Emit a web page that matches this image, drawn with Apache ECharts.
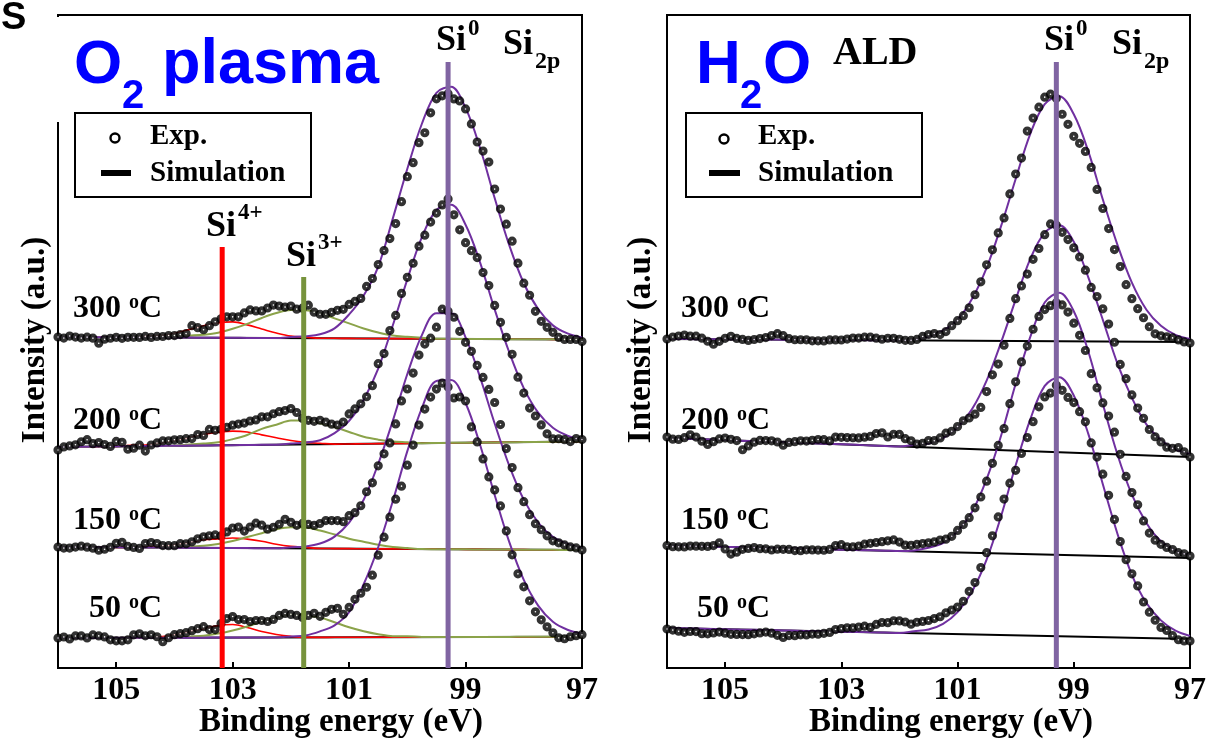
<!DOCTYPE html>
<html><head><meta charset="utf-8">
<script src="https://cdn.jsdelivr.net/npm/echarts/dist/echarts.min.js"></script>
<style>html,body{margin:0;padding:0;background:#fff}#chart{width:1210px;height:740px}</style>
</head><body><div id="chart"></div>
<script>
// ---------- DATA ----------
const E_START = 106, E_END = 97;      // binding energy range (eV)
const DOT_STEP = 0.1;                 // experimental sampling step (eV)
const FIT_STEP = 0.25;                // fitted curve sampling step (eV)
const xTicks = [105, 103, 101, 99, 97];
const temps = ['300', '200', '150', '50'];
const peakSi4 = 103.18, peakSi3 = 101.78, peakSi0 = 99.3;

// baselines: [value at 106 eV, value at 97 eV]
const o2Base300 = [331, 328.5], o2Base200 = [221, 226.5], o2Base150 = [121, 118], o2Base50 = [30, 31.3];
const h2oBase300 = [329, 326], h2oBase200 = [230, 211], h2oBase150 = [122.5, 110], h2oBase50 = [40, 29];

// O2 plasma experimental points (height above baseline), 106 -> 97 eV step 0.1
const o2Exp300 = [0,-1,1,0,-1,0,-1,-6,-2,-1, 0,-1,0,0,0,1,0,1,1,2, 2,3,4,12,10,8,12,16,19,21,
  21,21,25,28,27,27,30,33,32,31, 32,29,30,33,26,24,24,26,28,29, 34,37,40,52,60,74,88,100,115,137,
  162,176,196,206,226,240,243,245,240,238, 230,215,197,188,177,150,130,115,98,76, 56,44,28,18,12,7,2,0,0,0, -2];
const o2Exp200 = [-3,0,1,2,5,7,3,4,2,0, 5,4,-3,-2,1,-5,1,3,5,5, 6,6,7,7,11,10,16,15,16,18,
  20,21,22,24,25,28,28,31,33,34, 36,32,26,24,23,24,22,20,19,22, 30,35,40,47,58,80,90,113,128,150,
  166,180,197,208,221,230,238,244,228,213, 200,192,185,170,157,137,120,105,88,65, 49,34,26,17,8,3,3,2,0,3, 2];
const o2Exp150 = [0,-1,-1,0,1,0,-1,-3,-2,0, 4,5,1,0,-1,4,5,4,2,2, 2,4,4,6,9,11,12,13,12,16,
  20,21,17,21,25,23,19,21,24,29, 26,23,25,24,23,25,28,28,28,27, 33,36,43,57,66,83,95,106,125,148,
  160,176,194,205,211,222,240,238,232,218, 207,198,184,172,160,147,125,101,82,62, 48,35,26,20,14,9,7,5,3,2, 0];
const o2Exp50 = [0,1,-1,2,2,0,3,2,1,-2, -3,-3,-2,3,4,2,3,1,-4,0, 3,4,5,7,9,11,8,8,14,19,
  21,18,18,16,17,17,16,18,22,24, 23,22,20,22,24,21,25,28,29,23, 30,38,44,50,62,82,100,120,138,151,
  172,192,212,228,240,248,254,250,239,240, 236,210,195,178,160,147,131,106,82,63, 50,36,25,17,10,4,-1,-2,0,1, 2];

// O2 plasma fitted components (height above baseline), 106 -> 97 eV step 0.25
const o2Si0Fit300 = [0,0,0,0,0,0,0,0,0,0,0,0,0,0,0,0, 1,2,4,10,24,43,72,120,170,215,246,252,231,191,141,94,56,30,14,6,2];
const o2Si0Fit200 = [0,0,0,0,0,0,0,0,0,0,0,0,0,0,0,0, 1,2,4,11,23,44,75,118,164,206,233,238,218,180,133,90,54,29,14,6,2];
const o2Si0Fit150 = [0,0,0,0,0,0,0,0,0,0,0,0,0,0,0,0, 1,2,5,12,26,49,85,128,175,214,236,236,212,172,126,84,50,27,13,6,2];
const o2Si0Fit50  = [0,0,0,0,0,0,0,0,0,0,0,0,0,0,0,0, 1,2,6,12,25,53,90,136,186,229,256,257,234,192,142,95,57,31,15,7,3];
const o2Si3Fit300 = [0,0,0,0,0,0,0,0, 1,2,3,5,9,14,20,25,28,28,25,20,15,10,6,3,2,1, 0,0,0,0,0,0,0,0,0,0,0];
const o2Si3Fit200 = [0,0,0,0,0,0,0,0,0, 1,2,3,6,10,16,20,24,24,21,17,12,7,4,2,1, 0,0,0,0,0,0,0,0,0,0,0,0];
const o2Si3Fit150 = [0,0,0,0,0,0,0,0,0, 1,2,4,7,11,15,19,21,21,18,14,10,7,4,2,1, 0,0,0,0,0,0,0,0,0,0,0,0];
const o2Si3Fit50  = [0,0,0,0,0,0,0,0,0, 1,2,4,7,11,16,20,23,22,20,15,10,6,3,1,1, 0,0,0,0,0,0,0,0,0,0,0,0];
const o2Si4Fit300 = [0,0,0,0,0,0, 1,2,4,8,12,15,16,13,9,5,2,1, 0,0,0,0,0,0,0,0,0,0,0,0,0,0,0,0,0,0,0];
const o2Si4Fit200 = [0,0,0,0,0, 1,1,3,5,8,11,13,14,13,10,7,4,2,1, 0,0,0,0,0,0,0,0,0,0,0,0,0,0,0,0,0,0];
const o2Si4Fit150 = [0,0,0,0,0,0, 1,1,3,5,8,9,10,9,7,4,2,1, 0,0,0,0,0,0,0,0,0,0,0,0,0,0,0,0,0,0,0];
const o2Si4Fit50  = [0,0,0,0,0,0,0, 1,3,6,9,12,13,10,6,3,1, 0,0,0,0,0,0,0,0,0,0,0,0,0,0,0,0,0,0,0,0];

// H2O ALD experimental points
const h2oExp300 = [0,2,3,4,3,3,1,-2,-5,-2, 1,3,1,0,-1,0,1,2,4,6, 4,1,0,0,0,-1,-1,-1,0,0,
  0,1,2,2,3,3,2,1,2,2, 1,0,0,1,4,6,7,6,9,15, 20,25,33,46,59,76,91,108,123,147,
  167,183,210,223,234,244,247,243,227,217, 205,198,190,174,152,133,113,92,75,57, 43,33,24,15,8,6,5,4,2,0, -1];
const h2oExp200 = [1,-1,-1,1,4,2,-2,-5,-2,1, 2,1,0,-9,-5,-1,1,1,1,0, -3,0,1,2,2,3,4,4,3,7,
  7,7,7,7,8,9,12,13,9,12, 12,8,6,3,4,7,7,10,15,17, 22,28,31,35,42,58,75,86,105,132,
  152,165,177,192,203,217,228,227,220,213, 205,196,183,166,157,145,130,112,90,76, 60,47,37,26,19,14,9,8,9,5, 0];
const h2oExp150 = [0,-1,-1,-1,0,0,0,0,1,4, -2,-7,-5,-2,-1,0,-1,-1,-2,-1, -1,-1,-2,-2,-1,-1,-1,-1,0,4,
  5,3,3,4,6,7,8,9,10,11, 9,6,6,7,8,9,10,12,13,16, 22,28,35,45,56,72,90,108,125,150,
  172,192,208,225,238,245,249,252,250,243, 232,220,205,182,168,153,140,124,102,80, 64,52,36,24,17,13,10,8,5,4, 2];
const h2oExp50 = [-1,-2,-3,-4,-3,-3,-5,-5,-4,-3, -4,-5,-5,-5,-5,-4,-3,-2,-3,-5, -7,-5,-5,-4,-4,-3,-3,-2,-1,2,
  3,4,4,5,6,5,8,10,10,12, 12,11,9,11,12,13,15,17,21,24, 27,33,43,52,67,82,99,118,136,152,
  165,182,198,214,229,239,243,251,246,239, 234,225,215,194,180,163,142,118,96,78, 64,52,36,26,18,11,8,3,-1,-2, -2];

// H2O ALD fitted Si0 component
const h2oSi0Fit300 = [0,0,0,0,0,0,0,0,0,0,0,0,0,0,0,0,0, 1,4,10,21,42,73,115,162,207,237,245,227,190,142,97,59,32,16,7,3];
const h2oSi0Fit200 = [0,0,0,0,0,0,0,0,0,0,0,0,0,0,0,0,0, 2,4,10,21,40,69,108,151,192,219,227,211,176,134,91,57,31,16,7,3];
const h2oSi0Fit150 = [0,0,0,0,0,0,0,0,0,0,0,0,0,0,0,0,0, 1,4,9,21,41,74,118,170,217,252,262,244,204,152,102,62,34,16,7,3];
const h2oSi0Fit50  = [0,0,0,0,0,0,0,0,0,0,0,0,0,0,0,0,0, 2,4,10,22,43,75,119,170,216,250,259,241,203,153,104,63,35,18,8,3];

// ---------- BUILD ----------
const PURPLE = '#7030A0', OLIVE = '#8BA34A', RED = '#FF0000';
const SERIF = 'Liberation Serif', SANS = 'Liberation Sans';

function baseAt(base, e) { return base[0] + (base[1] - base[0]) * (E_START - e) / (E_START - E_END); }
function pts(rel, base, step) {
  return rel.map((v, i) => { const e = +(E_START - i * step).toFixed(3); return [e, +(baseAt(base, e) + v).toFixed(2)]; });
}
const series = [];
function addSpectrum(gi, exp, base, fits) {
  series.push({ type: 'line', xAxisIndex: gi, yAxisIndex: gi, data: [[E_START, base[0]], [E_END, base[1]]],
    symbol: 'none', lineStyle: { color: '#000', width: 2 }, z: 2, silent: true });
  fits.forEach(f => series.push({ type: 'line', xAxisIndex: gi, yAxisIndex: gi, data: pts(f.rel, base, FIT_STEP),
    smooth: 0.35, symbol: 'none', lineStyle: { color: f.color, width: f.width }, z: 3, silent: true }));
  series.push({ type: 'scatter', xAxisIndex: gi, yAxisIndex: gi, data: pts(exp, base, DOT_STEP), clip: false,
    symbol: 'circle', symbolSize: 5.4, itemStyle: { color: '#fff', borderColor: '#000', borderWidth: 3.8 }, z: 4, silent: true });
}
addSpectrum(0, o2Exp300, o2Base300, [{rel:o2Si4Fit300,color:RED,width:1.6},{rel:o2Si3Fit300,color:OLIVE,width:2},{rel:o2Si0Fit300,color:PURPLE,width:2}]);
addSpectrum(0, o2Exp200, o2Base200, [{rel:o2Si4Fit200,color:RED,width:1.6},{rel:o2Si3Fit200,color:OLIVE,width:2},{rel:o2Si0Fit200,color:PURPLE,width:2}]);
addSpectrum(0, o2Exp150, o2Base150, [{rel:o2Si4Fit150,color:RED,width:1.6},{rel:o2Si3Fit150,color:OLIVE,width:2},{rel:o2Si0Fit150,color:PURPLE,width:2}]);
addSpectrum(0, o2Exp50,  o2Base50,  [{rel:o2Si4Fit50, color:RED,width:1.6},{rel:o2Si3Fit50, color:OLIVE,width:2},{rel:o2Si0Fit50, color:PURPLE,width:2}]);
addSpectrum(1, h2oExp300, h2oBase300, [{rel:h2oSi0Fit300,color:PURPLE,width:2}]);
addSpectrum(1, h2oExp200, h2oBase200, [{rel:h2oSi0Fit200,color:PURPLE,width:2}]);
addSpectrum(1, h2oExp150, h2oBase150, [{rel:h2oSi0Fit150,color:PURPLE,width:2}]);
addSpectrum(1, h2oExp50,  h2oBase50,  [{rel:h2oSi0Fit50, color:PURPLE,width:2}]);

function vline(gi, e, top, color) {
  series.push({ type: 'line', xAxisIndex: gi, yAxisIndex: gi, data: [[e, 0], [e, top]], symbol: 'none',
    lineStyle: { color: color, width: 5, cap: 'butt' }, z: 10, silent: true });
}
vline(0, peakSi4, 421, '#FF0000');
vline(0, peakSi3, 391, '#77933C');
vline(0, peakSi0, 606, '#8064A2');
vline(1, peakSi0, 606, '#8064A2');

function xAxis(gi) {
  return { gridIndex: gi, type: 'value', min: E_END, max: E_START, interval: 2, inverse: true,
    axisLine: { show: true, lineStyle: { color: '#000', width: 2 } },
    axisTick: { show: true, inside: true, length: 6, lineStyle: { color: '#000', width: 2 } },
    axisLabel: { color: '#000', fontFamily: SERIF, fontWeight: 'bold', fontSize: 32, margin: 7,
      showMaxLabel: false, formatter: v => xTicks.includes(v) ? String(v) : '' },
    splitLine: { show: false } };
}
function yAxis(gi) { return { gridIndex: gi, type: 'value', min: 0, max: 653, show: false }; }

function t(x, y, text, size, extra) {
  return Object.assign({ type: 'text', x: x, y: y, z: 100, silent: true,
    style: Object.assign({ text: text, fontSize: size, fontFamily: SERIF, fontWeight: 'bold', fill: '#000',
      align: 'left', textAlign: 'left', verticalAlign: 'middle', textVerticalAlign: 'middle' }, extra || {}) });
}
const tempRich = { n: { fontSize: 32, fontFamily: SERIF, fontWeight: 'bold', color: '#000' },
                   o: { fontSize: 20, fontFamily: SERIF, fontWeight: 'bold', color: '#000', verticalAlign: 'top' } };
function tempLabel(xRight, y, v) {
  return { type: 'text', x: xRight, y: y, z: 100, silent: true,
    style: { text: '{n|' + v + ' }{o|o}{n|C}', rich: tempRich, align: 'right', textAlign: 'right',
      verticalAlign: 'middle', textVerticalAlign: 'middle' } };
}
const tempY = [309, 421, 521, 609];

const graphic = [
  { type: 'rect', z: 90, silent: true, shape: { x: 54, y: 17, width: 8, height: 105 }, style: { fill: '#fff' } },
  t(1, 19, 'S', 38, { fontFamily: SANS }),
  // left title
  t(74, 66, 'O', 62, { fontFamily: SANS, fill: '#0000FF' }),
  t(122, 97, '2', 40, { fontFamily: SANS, fill: '#0000FF' }),
  t(162, 66, 'plasma', 63, { fontFamily: SANS, fill: '#0000FF' }),
  // right title
  t(696, 66, 'H', 62, { fontFamily: SANS, fill: '#0000FF' }),
  t(740, 97, '2', 40, { fontFamily: SANS, fill: '#0000FF' }),
  t(763, 66, 'O', 62, { fontFamily: SANS, fill: '#0000FF' }),
  t(833, 54, 'ALD', 40),
  // Si labels left
  t(436, 41, 'Si', 36), t(468, 29, '0', 23),
  t(503, 45, 'Si', 36), t(535, 62, '2p', 24),
  t(206, 227, 'Si', 36), t(238, 213, '4+', 23),
  t(286, 257, 'Si', 36), t(318, 243, '3+', 23),
  // Si labels right
  t(1044, 41, 'Si', 36), t(1076, 29, '0', 23),
  t(1112, 45, 'Si', 36), t(1144, 62, '2p', 24),
  // legends
  { type: 'rect', z: 95, silent: true, shape: { x: 75, y: 113, width: 236, height: 84 }, style: { fill: '#fff', stroke: '#000', lineWidth: 2 } },
  { type: 'circle', z: 100, silent: true, shape: { cx: 115, cy: 138, r: 4.5 }, style: { fill: '#fff', stroke: '#000', lineWidth: 2.4 } },
  { type: 'rect', z: 100, silent: true, shape: { x: 101, y: 170, width: 30, height: 6 }, style: { fill: '#000' } },
  t(150, 137, 'Exp.', 29), t(150, 174, 'Simulation', 29),
  { type: 'rect', z: 95, silent: true, shape: { x: 686, y: 113, width: 236, height: 84 }, style: { fill: '#fff', stroke: '#000', lineWidth: 2 } },
  { type: 'circle', z: 100, silent: true, shape: { cx: 724, cy: 139, r: 4.5 }, style: { fill: '#fff', stroke: '#000', lineWidth: 2.4 } },
  { type: 'rect', z: 100, silent: true, shape: { x: 709, y: 170, width: 31, height: 6 }, style: { fill: '#000' } },
  t(758, 137, 'Exp.', 29), t(758, 174, 'Simulation', 29),
  // axis names
  t(341, 722, 'Binding energy (eV)', 33, { align: 'center', textAlign: 'center' }),
  t(951, 722, 'Binding energy (eV)', 33, { align: 'center', textAlign: 'center' }),
  Object.assign(t(0, 0, 'Intensity (a.u.)', 33, { align: 'center', textAlign: 'center' }), { x: 35, y: 340, rotation: Math.PI / 2 }),
  Object.assign(t(0, 0, 'Intensity (a.u.)', 33, { align: 'center', textAlign: 'center' }), { x: 641, y: 340, rotation: Math.PI / 2 })
];
temps.forEach((v, i) => { graphic.push(tempLabel(162, tempY[i], v)); graphic.push(tempLabel(770, tempY[i], v)); });

const chart = echarts.init(document.getElementById('chart'), null, { renderer: 'canvas' });
chart.setOption({
  animation: false,
  backgroundColor: '#fff',
  grid: [
    { left: 58, top: 15, width: 524, height: 653, show: true, borderColor: '#000', borderWidth: 2, backgroundColor: 'transparent' },
    { left: 667, top: 15, width: 523, height: 653, show: true, borderColor: '#000', borderWidth: 2, backgroundColor: 'transparent' }
  ],
  xAxis: [xAxis(0), xAxis(1)],
  yAxis: [yAxis(0), yAxis(1)],
  series: series,
  graphic: graphic
});
</script></body></html>
